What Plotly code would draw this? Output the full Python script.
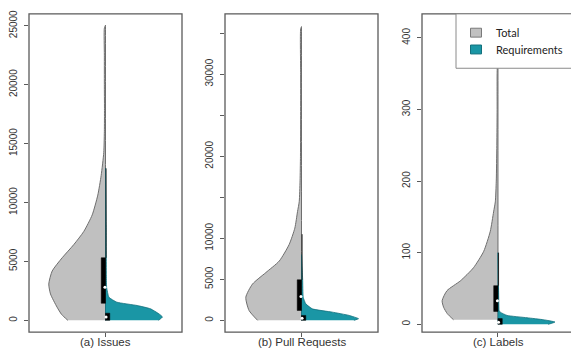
import plotly.graph_objects as go

# ---------------- data ----------------
panels = ["(a) Issues", "(b) Pull Requests", "(c) Labels"]

issues_total_y = [0, 500, 1120, 2240, 3080, 4190, 5310, 6430, 7550, 8950, 10630, 12300, 14260, 16000, 18000, 20000, 22500, 24800, 25050]
issues_total_w = [0.66, 0.77, 0.85, 0.965, 0.995, 0.935, 0.76, 0.556, 0.38, 0.233, 0.135, 0.076, 0.03, 0.02, 0.018, 0.02, 0.02, 0.02, 0.0]
issues_req_y = [0, 280, 560, 980, 1260, 1540, 1960, 2800, 4000, 8000, 12900]
issues_req_w = [0.93, 1.0, 0.935, 0.79, 0.556, 0.2, 0.06, 0.02, 0.015, 0.012, 0.0]

pr_total_y = [0, 1200, 2810, 4420, 5820, 7230, 9240, 11240, 13250, 14460, 17000, 20000, 25000, 30000, 35500, 35800]
pr_total_w = [0.77, 0.92, 0.977, 0.86, 0.626, 0.39, 0.217, 0.117, 0.07, 0.04, 0.025, 0.018, 0.015, 0.015, 0.015, 0.0]
pr_req_y = [0, 200, 600, 1000, 1400, 2010, 2810, 5000, 8000]
pr_req_w = [0.92, 1.0, 0.835, 0.54, 0.19, 0.076, 0.03, 0.02, 0.0]

labels_total_y = [6.4, 15, 23.9, 33, 47, 60.7, 79, 102, 130, 157, 171, 200, 250, 300, 350, 395]
labels_total_w = [0.78, 0.89, 0.954, 0.98, 0.895, 0.66, 0.43, 0.25, 0.135, 0.077, 0.047, 0.03, 0.02, 0.015, 0.015, 0.0]
labels_req_y = [0, 3.2, 6.4, 9.2, 12.4, 17, 19.3, 40, 100]
labels_req_w = [0.88, 1.0, 0.8, 0.51, 0.16, 0.04, 0.02, 0.012, 0.0]

total_q1 = [1450, 1200, 18]
total_q3 = [5310, 4940, 54]
total_med = [2800, 2900, 33]
total_whisker = [12900, 10500, 100]
req_q1 = [0, 0, 0]
req_q3 = [610, 600, 8]
req_med = [280, 250, 3]

y_ticks = [
    [0, 5000, 10000, 15000, 20000, 25000],
    [0, 5000, 10000, 15000, 20000, 25000, 30000, 35000],
    [0, 100, 200, 300, 400],
]
y_ticktext = [
    ["0", "5000", "10000", "15000", "20000", "25000"],
    ["0", "5000", "10000", "", "20000", "", "30000", ""],
    ["0", "100", "200", "300", "400"],
]
legend_names = ["Total", "Requirements"]

# ---------------- style ----------------
W, H = 571, 351
GRAY = "#c0c0c0"
TEAL = "#1a96a5"
FRAME = "#5a5a5a"

def px_x(p):
    return p / W

def px_y(p):
    return 1 - p / H

x_domains = [[px_x(29), px_x(182)], [px_x(225), px_x(378)], [px_x(422), 1.0]]
x_ranges = [[-1.342, 1.342], [-1.342, 1.342], [-1.333, 1.281]]
y_ranges = [[-1007, 26007], [-1446, 37350], [-11, 433.5]]
y_dom = [px_y(332), px_y(10)]
frames = [(29, 182), (225, 378), (422, 575)]
centers = [105.5, 301.5, 498.0]

totals = [(issues_total_y, issues_total_w), (pr_total_y, pr_total_w), (labels_total_y, labels_total_w)]
reqs = [(issues_req_y, issues_req_w), (pr_req_y, pr_req_w), (labels_req_y, labels_req_w)]

fig = go.Figure()
BW = 0.075
common_font = dict(family="Liberation Sans, Arial, sans-serif", color="#333")

for i in range(3):
    xa = "x" if i == 0 else f"x{i+1}"
    ya = "y" if i == 0 else f"y{i+1}"
    ty, tw = totals[i]
    ry, rw = reqs[i]
    # Total half (left)
    fig.add_trace(go.Scatter(
        x=[-w for w in tw] + [0, 0], y=list(ty) + [ty[-1], ty[0]],
        fill="toself", fillcolor=GRAY, mode="lines",
        line=dict(color="#6e6e6e", width=1, shape="spline", smoothing=0.6), xaxis=xa, yaxis=ya,
        showlegend=False, hoverinfo="skip"))
    # Requirements half (right)
    fig.add_trace(go.Scatter(
        x=list(rw) + [0, 0], y=list(ry) + [ry[-1], ry[0]],
        fill="toself", fillcolor=TEAL, mode="lines",
        line=dict(color="#12707c", width=0.8, shape="spline", smoothing=0.4), xaxis=xa, yaxis=ya,
        showlegend=False, hoverinfo="skip"))
    # whisker
    fig.add_trace(go.Scatter(
        x=[0.01, 0.01], y=[total_q3[i], total_whisker[i]], mode="lines",
        line=dict(color="#222", width=1), xaxis=xa, yaxis=ya,
        showlegend=False, hoverinfo="skip"))
    # Total box
    fig.add_trace(go.Scatter(
        x=[-BW, 0, 0, -BW, -BW], y=[total_q1[i], total_q1[i], total_q3[i], total_q3[i], total_q1[i]],
        fill="toself", fillcolor="black", mode="lines", line=dict(color="black", width=0.5),
        xaxis=xa, yaxis=ya, showlegend=False, hoverinfo="skip"))
    # Requirements box
    fig.add_trace(go.Scatter(
        x=[0, BW, BW, 0, 0], y=[req_q1[i], req_q1[i], req_q3[i], req_q3[i], req_q1[i]],
        fill="toself", fillcolor="black", mode="lines", line=dict(color="black", width=0.5),
        xaxis=xa, yaxis=ya, showlegend=False, hoverinfo="skip"))
    # medians
    fig.add_trace(go.Scatter(
        x=[-0.01, 0.01], y=[total_med[i], req_med[i]], mode="markers",
        marker=dict(color="white", size=3), xaxis=xa, yaxis=ya,
        showlegend=False, hoverinfo="skip"))

    fig.layout[f"xaxis{'' if i == 0 else i+1}"] = dict(
        domain=x_domains[i], range=x_ranges[i], anchor=ya,
        tickvals=[0], ticktext=[""], ticks="outside", ticklen=4,
        tickcolor=FRAME, showgrid=False, zeroline=False, showline=False, fixedrange=True)
    fig.layout[f"yaxis{'' if i == 0 else i+1}"] = dict(
        domain=y_dom, range=y_ranges[i], anchor=xa,
        tickvals=y_ticks[i], ticktext=y_ticktext[i], tickangle=-90,
        ticks="outside", ticklen=4, tickcolor=FRAME,
        tickfont=dict(size=10, **common_font), ticklabelstandoff=3,
        showgrid=False, zeroline=False, showline=False, fixedrange=True)
    fig.add_shape(type="rect", xref="paper", yref="paper",
                  x0=px_x(frames[i][0]), x1=px_x(frames[i][1]),
                  y0=px_y(332), y1=px_y(10),
                  line=dict(color=FRAME, width=1.3), layer="above")
    # category label under each panel
    fig.add_annotation(xref="paper", yref="paper", x=px_x(centers[i]), y=px_y(341.5),
                       text=panels[i], showarrow=False, xanchor="center", yanchor="middle",
                       font=dict(size=11.5, **common_font))

# legend (drawn manually as a box)
fig.add_shape(type="rect", xref="paper", yref="paper",
              x0=px_x(456), x1=px_x(580), y0=px_y(65), y1=px_y(10),
              fillcolor="white", line=dict(color="#8a8a8a", width=1), layer="above")
leg_cols = [(GRAY, "#7a7a7a"), (TEAL, "#12707c")]
leg_y = [29, 46]
for k in range(2):
    fig.add_shape(type="rect", xref="paper", yref="paper",
                  x0=px_x(470.5), x1=px_x(481.5), y0=px_y(leg_y[k] + 4.5), y1=px_y(leg_y[k] - 4.5),
                  fillcolor=leg_cols[k][0], line=dict(color=leg_cols[k][1], width=1), layer="above")
    fig.add_annotation(xref="paper", yref="paper", x=px_x(494), y=px_y(leg_y[k]),
                       text=legend_names[k], showarrow=False, xanchor="left", yanchor="middle",
                       font=dict(family="Lato, Carlito, sans-serif", size=11, color="#222"))

fig.update_layout(width=W, height=H, margin=dict(l=0, r=0, t=0, b=0),
                  paper_bgcolor="white", plot_bgcolor="white", showlegend=False)

fig.write_html("out.html", config={"displayModeBar": False, "staticPlot": True},
               post_script="document.body.style.margin='0';document.body.style.overflow='hidden';")
